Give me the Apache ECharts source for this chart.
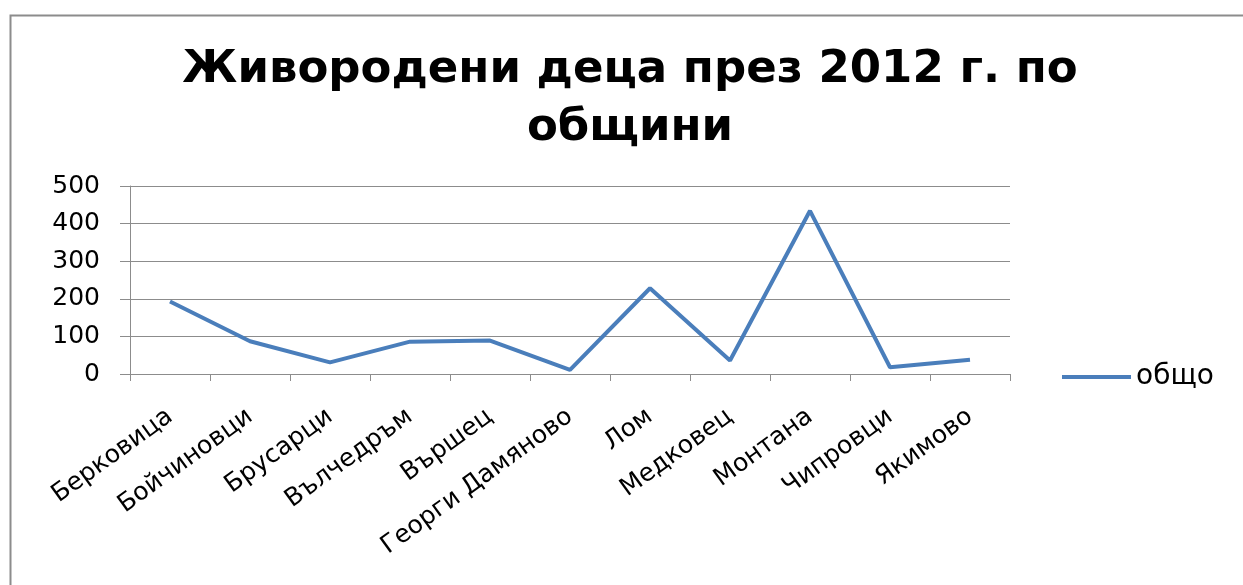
<!DOCTYPE html>
<html>
<head>
<meta charset="utf-8">
<script src="https://cdn.jsdelivr.net/npm/echarts@6/dist/echarts.min.js"></script>
<style>html,body{margin:0;padding:0;background:#fff;}#c{width:1243px;height:585px;}</style>
</head>
<body>
<div id="c"></div>
<script>
var titleText = 'Живородени деца през 2012 г. по\nобщини';
var categories = ['Берковица','Бойчиновци','Брусарци','Вълчедръм','Вършец','Георги Дамяново','Лом','Медковец','Монтана','Чипровци','Якимово'];
var seriesName = 'общо';
var values = [193, 87, 31, 86, 89, 11, 228, 36, 434, 18, 38];
var yTicks = [0, 100, 200, 300, 400, 500];

var chart = echarts.init(document.getElementById('c'));
chart.setOption({
  animation: false,
  backgroundColor: '#fff',
  graphic: [{
    type: 'rect', left: 8, top: 13, shape: {x: 0, y: 0, width: 1400, height: 800},
    style: {fill: 'none', stroke: '#8c8c8c', lineWidth: 2}, silent: true
  }],
  title: {
    text: titleText,
    left: 625, top: 36, textAlign: 'center',
    textStyle: {fontFamily: 'DejaVu Sans', fontWeight: 'bold', fontSize: 45, lineHeight: 58, color: '#000'}
  },
  legend: {
    data: [seriesName],
    left: 1062, top: 363, padding: 0,
    icon: 'rect', itemWidth: 69, itemHeight: 4,
    textStyle: {fontFamily: 'DejaVu Sans', fontSize: 28, color: '#000'}
  },
  grid: {left: 130, top: 186, width: 880, height: 188, containLabel: false},
  xAxis: {
    type: 'category', data: categories, boundaryGap: true,
    axisLine: {lineStyle: {color: '#8c8c8c', width: 1}},
    axisTick: {show: true, length: 7, lineStyle: {color: '#8c8c8c'}},
    axisLabel: {rotate: 36, interval: 0, margin: 40, fontFamily: 'DejaVu Sans', fontSize: 25, color: '#000'}
  },
  yAxis: {
    type: 'value', min: yTicks[0], max: yTicks[yTicks.length-1], interval: 100,
    axisLine: {show: true, lineStyle: {color: '#8c8c8c', width: 1}},
    axisTick: {show: true, length: 10, lineStyle: {color: '#8c8c8c'}},
    splitLine: {show: true, lineStyle: {color: '#8c8c8c', width: 1}},
    axisLabel: {margin: 30, fontFamily: 'DejaVu Sans', fontSize: 25, color: '#000'}
  },
  series: [{
    name: seriesName, type: 'line', data: values,
    symbol: 'none', lineStyle: {color: '#4A7EBB', width: 4}, itemStyle: {color: '#4A7EBB'}
  }]
});
</script>
</body>
</html>
